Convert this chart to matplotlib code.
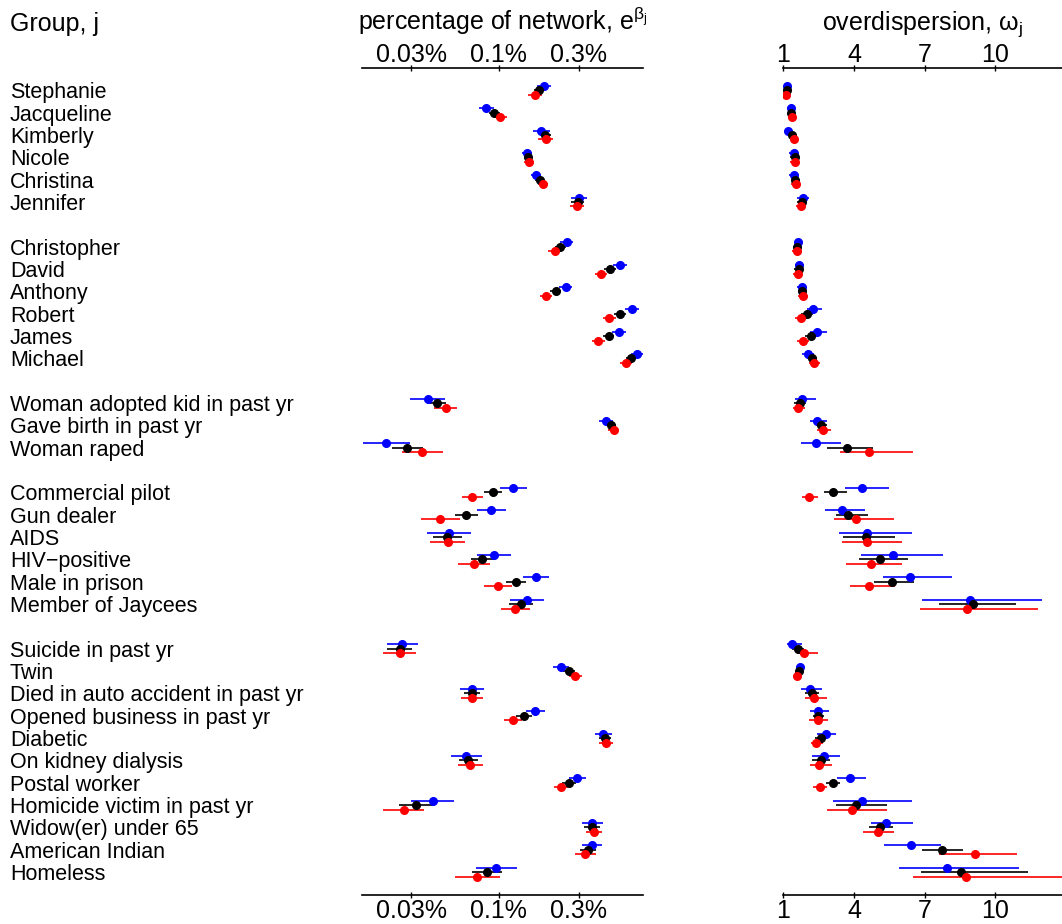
import matplotlib
matplotlib.use('Agg')
import matplotlib.pyplot as plt
import matplotlib.transforms as mtransforms
import numpy as np

plt.rcParams['font.family'] = ['Liberation Sans', 'DejaVu Sans']
plt.rcParams['mathtext.fontset'] = 'custom'
plt.rcParams['mathtext.rm'] = 'Liberation Sans'
plt.rcParams['mathtext.it'] = 'Liberation Sans:italic'

# groups, in blocks separated by a blank row
sections = [
    ['Stephanie', 'Jacqueline', 'Kimberly', 'Nicole', 'Christina', 'Jennifer'],
    ['Christopher', 'David', 'Anthony', 'Robert', 'James', 'Michael'],
    ['Woman adopted kid in past yr', 'Gave birth in past yr', 'Woman raped'],
    ['Commercial pilot', 'Gun dealer', 'AIDS', 'HIV\u2212positive', 'Male in prison',
     'Member of Jaycees'],
    ['Suicide in past yr', 'Twin', 'Died in auto accident in past yr',
     'Opened business in past yr', 'Diabetic', 'On kidney dialysis', 'Postal worker',
     'Homicide victim in past yr', 'Widow(er) under 65', 'American Indian', 'Homeless'],
]

# percentage of network (%), three fits: blue, black, red
net_blue = [0.187, 0.084, 0.179, 0.147, 0.166, 0.301,
            0.254, 0.529, 0.250, 0.619, 0.522, 0.668,
            0.0376, 0.437, 0.0213,
            0.122, 0.0903, 0.0506, 0.0934, 0.167, 0.147,
            0.0266, 0.235, 0.0694, 0.165, 0.4195, 0.0641, 0.294, 0.0403, 0.361, 0.359, 0.0968]
net_black = [0.174, 0.094, 0.189, 0.150, 0.175, 0.295,
             0.232, 0.460, 0.218, 0.527, 0.452, 0.613,
             0.0429, 0.464, 0.0285,
             0.0925, 0.0639, 0.0494, 0.0799, 0.127, 0.136,
             0.0256, 0.262, 0.0694, 0.141, 0.428, 0.0659, 0.261, 0.0321, 0.359, 0.339, 0.0848]
net_red = [0.164, 0.102, 0.190, 0.152, 0.184, 0.293,
           0.215, 0.406, 0.191, 0.455, 0.392, 0.572,
           0.0484, 0.484, 0.035,
           0.0694, 0.0449, 0.0497, 0.0713, 0.0986, 0.1255,
           0.0256, 0.286, 0.0691, 0.122, 0.437, 0.0677, 0.236, 0.0271, 0.368, 0.328, 0.0746]
# multiplicative half-width of the interval
net_blue_f = [1.10, 1.11, 1.12, 1.07, 1.07, 1.12,
              1.09, 1.10, 1.09, 1.10, 1.10, 1.09,
              1.27, 1.10, 1.38,
              1.20, 1.22, 1.35, 1.26, 1.20, 1.26,
              1.24, 1.12, 1.18, 1.14, 1.12, 1.24, 1.13, 1.35, 1.15, 1.15, 1.32]
net_black_f = [1.07, 1.08, 1.08, 1.06, 1.06, 1.09,
               1.08, 1.08, 1.08, 1.08, 1.08, 1.07,
               1.13, 1.07, 1.24,
               1.13, 1.17, 1.22, 1.17, 1.15, 1.18,
               1.18, 1.09, 1.12, 1.12, 1.09, 1.14, 1.10, 1.27, 1.12, 1.12, 1.23]
net_red_f = [1.10, 1.09, 1.11, 1.07, 1.07, 1.10,
             1.09, 1.09, 1.09, 1.09, 1.09, 1.09,
             1.17, 1.08, 1.33,
             1.155, 1.31, 1.27, 1.25, 1.21, 1.22,
             1.26, 1.09, 1.16, 1.13, 1.10, 1.19, 1.10, 1.33, 1.12, 1.16, 1.37]

# overdispersion: estimate, lower and upper end of interval
od_blue = [1.17, 1.31, 1.21, 1.44, 1.45, 1.82,
           1.64, 1.68, 1.78, 2.27, 2.44, 2.04,
           1.81, 2.44, 2.40,
           4.33, 3.48, 4.55, 5.66, 6.39, 8.92,
           1.38, 1.71, 2.13, 2.49, 2.83, 2.71, 3.84, 4.35, 5.36, 6.41, 7.95]
od_blue_lo = [1.04, 1.14, 1.08, 1.24, 1.25, 1.57,
              1.44, 1.48, 1.58, 1.99, 2.13, 1.79,
              1.50, 2.13, 1.74,
              3.62, 2.76, 3.38, 4.30, 5.23, 6.90,
              1.17, 1.54, 1.76, 2.13, 2.44, 2.23, 3.29, 3.12, 4.71, 5.27, 5.92]
od_blue_hi = [1.30, 1.48, 1.34, 1.64, 1.65, 2.10,
              1.84, 1.88, 1.98, 2.65, 2.84, 2.29,
              2.39, 2.84, 3.46,
              5.49, 4.47, 6.48, 7.77, 8.15, 11.97,
              1.78, 1.88, 2.64, 2.93, 3.24, 3.42, 4.51, 6.46, 6.52, 7.68, 11.0]
od_black = [1.14, 1.34, 1.37, 1.48, 1.51, 1.78,
            1.59, 1.65, 1.81, 2.02, 2.16, 2.21,
            1.71, 2.60, 3.70,
            3.12, 3.76, 4.50, 5.12, 5.61, 9.04,
            1.64, 1.67, 2.23, 2.49, 2.60, 2.60, 3.11, 4.10, 5.09, 7.72, 8.56]
od_black_lo = [1.04, 1.19, 1.27, 1.30, 1.33, 1.58,
               1.41, 1.47, 1.63, 1.77, 1.91, 1.99,
               1.46, 2.38, 2.85,
               2.73, 3.24, 3.52, 4.23, 4.86, 7.61,
               1.39, 1.52, 1.93, 2.24, 2.35, 2.22, 2.81, 3.22, 4.65, 6.90, 6.84]
od_black_hi = [1.24, 1.49, 1.47, 1.66, 1.69, 1.98,
               1.77, 1.83, 1.99, 2.27, 2.41, 2.43,
               1.96, 2.87, 4.81,
               3.69, 4.61, 5.74, 6.28, 6.56, 10.86,
               1.89, 1.82, 2.53, 2.74, 2.85, 2.98, 3.41, 5.39, 5.64, 8.61, 11.37]
od_red = [1.11, 1.36, 1.47, 1.48, 1.53, 1.74,
          1.57, 1.61, 1.82, 1.74, 1.85, 2.32,
          1.62, 2.70, 4.65,
          2.09, 4.10, 4.57, 4.72, 4.64, 8.78,
          1.87, 1.58, 2.32, 2.49, 2.39, 2.53, 2.57, 3.90, 5.03, 9.14, 8.75]
od_red_lo = [0.98, 1.19, 1.34, 1.28, 1.33, 1.54,
             1.37, 1.41, 1.62, 1.49, 1.60, 2.07,
             1.42, 2.42, 3.39,
             1.78, 3.15, 3.49, 3.67, 3.83, 6.79,
             1.57, 1.41, 1.93, 2.10, 2.16, 2.13, 2.27, 2.87, 4.40, 7.62, 6.49]
od_red_hi = [1.24, 1.53, 1.60, 1.68, 1.73, 1.94,
             1.77, 1.81, 2.02, 1.99, 2.10, 2.57,
             1.92, 3.01, 6.52,
             2.46, 5.70, 6.05, 6.04, 5.74, 11.81,
             2.46, 1.75, 2.84, 2.91, 2.67, 3.05, 2.84, 5.40, 5.71, 10.93, 13.0]

net_ticks = [0.03, 0.1, 0.3]
net_ticklabels = ['0.03%', '0.1%', '0.3%']
od_ticks = [1, 4, 7, 10]
od_ticklabels = ['1', '4', '7', '10']

# row positions with a blank row between blocks
labels, rows = [], []
r = 0
for block in sections:
    for name in block:
        labels.append(name)
        rows.append(r)
        r += 1
    r += 1
rows = np.array(rows, dtype=float)
nrows = r - 1

W, H = 1062, 924
fig = plt.figure(figsize=(W / 100, H / 100), dpi=100)
ax1 = fig.add_axes([362 / W, 1 - 894.5 / H, 281 / W, 826.5 / H])
ax2 = fig.add_axes([783.3 / W, 1 - 894.5 / H, (W - 783.3) / W, 826.5 / H])

shift = 0.2
series = [('blue', -shift), ('black', 0.0), ('red', shift)]

for (col, dy), x, f in zip(series, [net_blue, net_black, net_red],
                           [net_blue_f, net_black_f, net_red_f]):
    x = np.array(x); f = np.array(f)
    ax1.errorbar(x, rows + dy, xerr=[x - x / f, x * f - x], fmt='o', color=col,
                 ms=5.5, elinewidth=1.2, capsize=0)

for (col, dy), x, lo, hi in zip(series, [od_blue, od_black, od_red],
                                [od_blue_lo, od_black_lo, od_red_lo],
                                [od_blue_hi, od_black_hi, od_red_hi]):
    x = np.array(x)
    ax2.errorbar(x, rows + dy, xerr=[x - np.array(lo), np.array(hi) - x], fmt='o',
                 color=col, ms=5.5, elinewidth=1.2, capsize=0)

ax1.set_xscale('log')
ax1.set_xlim(0.0153, 0.723)
ax1.set_xticks(net_ticks)
ax1.minorticks_off()
ax2.set_xlim(1, 12.83)
ax2.set_xticks(od_ticks)

for ax, ticks, tlabels in ((ax1, net_ticks, net_ticklabels), (ax2, od_ticks, od_ticklabels)):
    ax.set_ylim(nrows + 0.0, -1)
    ax.set_yticks([])
    ax.spines['left'].set_visible(False)
    ax.spines['right'].set_visible(False)
    ax.spines['top'].set_linewidth(1.2)
    ax.spines['bottom'].set_linewidth(1.2)
    ax.xaxis.set_ticks_position('both')
    ax.tick_params(axis='x', which='both', top=True, bottom=True, labeltop=False,
                   labelbottom=False, direction='inout', length=5, width=1)
    tt = mtransforms.blended_transform_factory(ax.transData, fig.transFigure)
    for t, s in zip(ticks, tlabels):
        ax.text(t, 1 - 61.5 / H, s, transform=tt, fontsize=18, ha='center',
                va='baseline', clip_on=False)
        ax.text(t, 1 - 918 / H, s, transform=tt, fontsize=18, ha='center',
                va='baseline', clip_on=False)

fig.text(503 / W, 1 - 30 / H, r'percentage of network, e$\mathregular{^{\beta_j}}$',
         fontsize=18, ha='center', va='baseline')
fig.text(922 / W, 1 - 30 / H, r'overdispersion, $\mathregular{\omega_j}$',
         fontsize=18, ha='center', va='baseline')
fig.text(10 / W, 1 - 30.5 / H, 'Group, j', fontsize=18, ha='left', va='baseline')

trans = mtransforms.blended_transform_factory(fig.transFigure, ax1.transData)
for name, y in zip(labels, rows):
    ax1.text(10 / W, y, name, transform=trans, fontsize=15.5, ha='left',
             va='center_baseline', clip_on=False)

fig.savefig('out.png', dpi=100)
